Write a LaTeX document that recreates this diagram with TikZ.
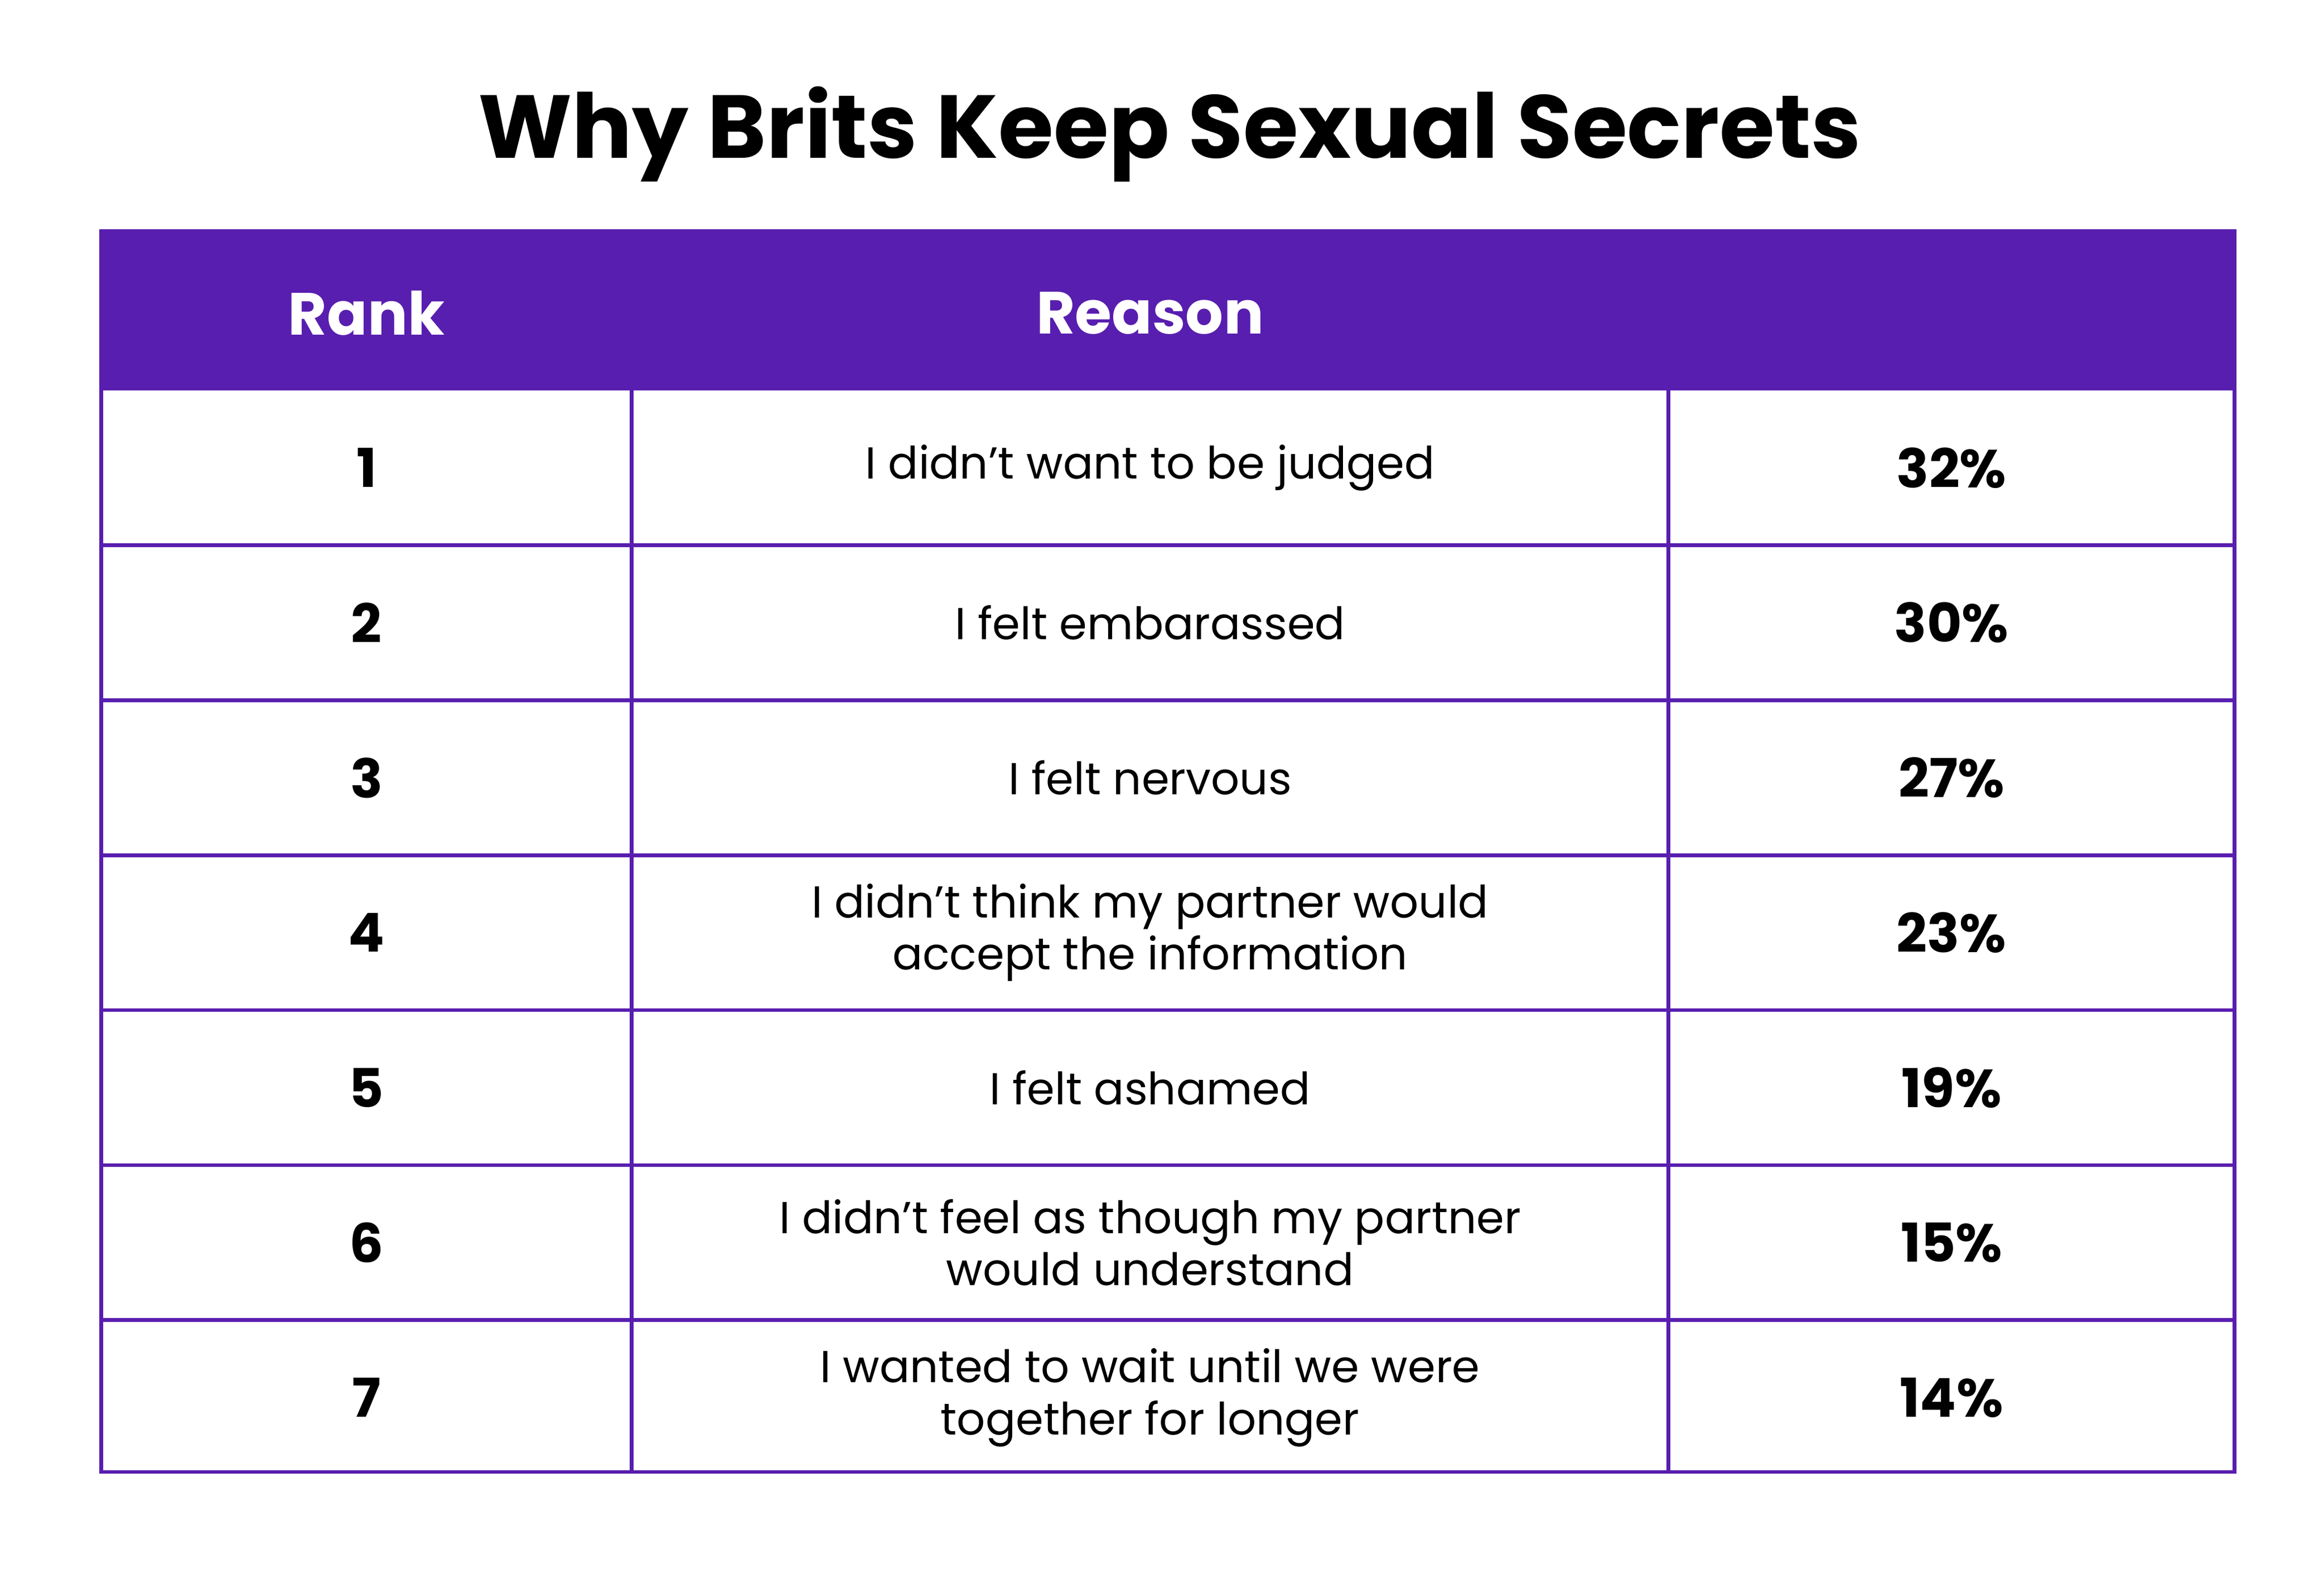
\documentclass[tikz,border=0pt]{standalone}
\usepackage{fontspec}
\setmainfont{Poppins}
\definecolor{purp}{HTML}{581EAF}
\begin{document}
\begin{tikzpicture}[x=1pt,y=-1pt,
  title/.style={font=\fontsize{60}{66}\selectfont\bfseries},
  head/.style={font=\fontsize{40}{44}\selectfont\bfseries,text=white},
  num/.style={font=\fontsize{36}{40}\selectfont\bfseries},
  reason/.style={font=\fontsize{30}{35}\selectfont,align=center},
  grid/.style={draw=purp,line width=2.5pt}]
\useasboundingbox (0,0) rectangle (1560,1053);
\node[title] (t) at (785,90) {Why Brits Keep Sexual Secrets};
\fill[purp] (68,155) rectangle (1500,262);
\node[head] (h1) at (246,210) {Rank};
\node[head] (h2) at (772,210) {Reason};
\foreach \y in {366,470,574,678,782,886} \draw[grid] (68,\y) -- (1500,\y);
\draw[grid] (424,262) -- (424,988);
\draw[grid] (1120,262) -- (1120,988);
\draw[grid] (68,155) rectangle (1500,988);
\foreach \i/\r/\p in {1/{I didn’t want to be judged}/32\%,
  2/{I felt embarassed}/30\%,
  3/{I felt nervous}/27\%,
  4/{I didn’t think my partner would\\accept the information}/23\%,
  5/{I felt ashamed}/19\%,
  6/{I didn’t feel as though my partner\\would understand}/15\%,
  7/{I wanted to wait until we were\\together for longer}/14\%}{
  \pgfmathsetmacro\yy{262+104*(\i-1)+52}
  \node[num] (n\i) at (246,\yy) {\i};
  \node[reason] (r\i) at (772,\yy) {\r};
  \node[num] (p\i) at (1310,\yy) {\p};
}
\end{tikzpicture}
\end{document}
